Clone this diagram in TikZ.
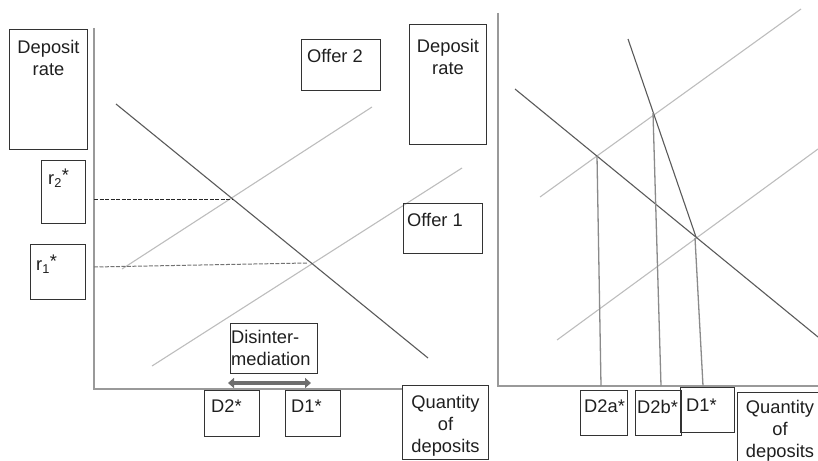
\documentclass[tikz,border=0pt]{standalone}
\usepackage{fontspec}
\setmainfont{Liberation Sans}
\usepackage{tikz}
\usetikzlibrary{positioning,arrows.meta}

\definecolor{axisgray}{HTML}{999999}
\definecolor{demandgray}{HTML}{5A5A5A}
\definecolor{offergray}{HTML}{BDBDBD}
\definecolor{dropgray}{HTML}{8A8A8A}
\definecolor{boxgray}{HTML}{333333}

\newcommand{\ratestar}[1]{r\textsubscript{#1}\raisebox{3pt}{*}}

\begin{document}
\begin{tikzpicture}[
	x=1pt, y=-1pt,
	font=\fontsize{18.3}{22}\selectfont,
	axis/.style={axisgray, line width=1.6pt},
	demand line/.style={demandgray, line width=1.1pt},
	offer line/.style={offergray, line width=1.1pt},
	drop line/.style={dropgray, line width=1.3pt},
	dashed line/.style={dashed, line width=1pt, dash pattern=on 4pt off 1.5pt},
	shift arrow/.style={line width=4pt, color=black!57,
		{Triangle[width=10pt,length=6pt]}-{Triangle[width=10pt,length=6pt]}},
	labelbox/.style={draw=boxgray, line width=1pt, anchor=north west, inner sep=0pt},
	boxtext/.style={inner sep=0pt, text=black!88},
	every node/.style={color=black}
	]
	\path[use as bounding box, clip] (0,0) rectangle (818,460);

	% --- left panel: axis
	\coordinate (yTopL) at (94,28);
	\coordinate (origL) at (94,389);
	\coordinate (xEndL) at (402,389);
	\draw[axis] (yTopL) -- (origL) -- (xEndL);

	% Lines
	\coordinate (demL1) at (116,104);
	\coordinate (demL2) at (428,358);
	\coordinate (offTwoL1) at (122,269);
	\coordinate (offTwoL2) at (372,107);
	\coordinate (offOneL1) at (152,366);
	\coordinate (offOneL2) at (462,168);
	\draw[offer line] (offTwoL1) -- (offTwoL2);
	\draw[offer line] (offOneL1) -- (offOneL2);
	\draw[demand line] (demL1) -- (demL2);

	% dashed rates
	\coordinate (rTwoA) at (94,199);
	\coordinate (rTwoB) at (232,199);
	\coordinate (rOneA) at (94,267);
	\coordinate (rOneB) at (307,263);
	\draw[dashed line, black!85] (rTwoA) -- (rTwoB);
	\draw[dashed line, black!55] (rOneA) -- (rOneB);

	% disintermediation arrow
	\coordinate (arrD2) at (228,383);
	\coordinate (arrD1) at (311,383);
	\draw[shift arrow] (arrD2) -- (arrD1);

	% boxes, left
	\node[labelbox, minimum width=78pt, minimum height=120pt] (rateL) at (9,29) {};
	\node[boxtext, align=center, below=11pt of rateL.north] (rateLtxt) {Deposit\\rate};
	\node[labelbox, minimum width=79pt, minimum height=51pt] (offerTwo) at (301,39) {};
	\node[boxtext, below right=10pt and 6pt of offerTwo.north west] (offerTwotxt) {Offer 2};
	\node[labelbox, minimum width=44pt, minimum height=63pt] (rTwo) at (41,160) {};
	\node[boxtext, below right=9pt and 7pt of rTwo.north west] (rTwotxt) {\ratestar{2}};
	\node[labelbox, minimum width=55pt, minimum height=55pt] (rOne) at (30,244) {};
	\node[boxtext, below right=11pt and 6pt of rOne.north west] (rOnetxt) {\ratestar{1}};
	\node[labelbox, minimum width=87pt, minimum height=50pt] (disint) at (230,323) {};
	\node[boxtext, align=left, below right=7pt and 1pt of disint.north west] (disinttxt) {Disinter-\\mediation};
	\node[labelbox, minimum width=55pt, minimum height=46pt] (dTwoL) at (204,390) {};
	\node[boxtext, below right=10pt and 7pt of dTwoL.north west] (dTwoLtxt) {D2*};
	\node[labelbox, minimum width=55pt, minimum height=46pt] (dOneL) at (285,390) {};
	\node[boxtext, below right=10pt and 6pt of dOneL.north west] (dOneLtxt) {D1*};
	\node[labelbox, minimum width=86pt, minimum height=74pt] (qtyL) at (402,385) {};
	\node[boxtext, align=center, below=10pt of qtyL.north] (qtyLtxt) {Quantity\\of\\deposits};
	\node[labelbox, minimum width=79pt, minimum height=50pt] (offerOne) at (403,203) {};
	\node[boxtext, below right=10pt and 4pt of offerOne.north west] (offerOnetxt) {Offer 1};

	% --- right panel: axis
	\coordinate (yTopR) at (498,13);
	\coordinate (origR) at (498,386);
	\coordinate (xEndR) at (818,386);
	\draw[axis] (yTopR) -- (origR) -- (xEndR);

	% Lines
	\coordinate (demR1) at (515,89);
	\coordinate (demR2) at (818,337);
	\coordinate (steepR1) at (628,39);
	\coordinate (steepR2) at (696,237);
	\coordinate (offUpR1) at (540,197);
	\coordinate (offUpR2) at (801,9);
	\coordinate (offLoR1) at (557,340);
	\coordinate (offLoR2) at (818,149);
	\draw[offer line] (offUpR1) -- (offUpR2);
	\draw[offer line] (offLoR1) -- (offLoR2);
	\draw[demand line] (demR1) -- (demR2);
	\draw[demand line] (steepR1) -- (steepR2);

	% drop lines to the quantities
	\coordinate (dropA1) at (597,156);
	\coordinate (dropA2) at (601,386);
	\coordinate (dropB1) at (653,113);
	\coordinate (dropB2) at (661,386);
	\coordinate (dropC1) at (695,238);
	\coordinate (dropC2) at (703,386);
	\draw[drop line] (dropA1) -- (dropA2);
	\draw[drop line] (dropB1) -- (dropB2);
	\draw[drop line] (dropC1) -- (dropC2);

	% boxes, right
	\node[labelbox, minimum width=77pt, minimum height=120pt] (rateR) at (409,24) {};
	\node[boxtext, align=center, below=15pt of rateR.north] (rateRtxt) {Deposit\\rate};
	\node[labelbox, minimum width=47pt, minimum height=45pt] (dTwoA) at (580,390) {};
	\node[boxtext, below right=10pt and 4pt of dTwoA.north west] (dTwoAtxt) {D2a*};
	\node[labelbox, minimum width=46pt, minimum height=45pt] (dTwoB) at (635,390) {};
	\node[boxtext, below right=10pt and 2pt of dTwoB.north west] (dTwoBtxt) {D2b*};
	\node[labelbox, minimum width=54pt, minimum height=45pt] (dOneR) at (680,387) {};
	\node[boxtext, below right=12pt and 6pt of dOneR.north west] (dOneRtxt) {D1*};
	\node[labelbox, minimum width=90pt, minimum height=80pt] (qtyR) at (737,392) {};
	\node[boxtext, align=center, below=8pt of qtyR.north west, xshift=43pt] (qtyRtxt) {Quantity\\of\\deposits};
\end{tikzpicture}
\end{document}
